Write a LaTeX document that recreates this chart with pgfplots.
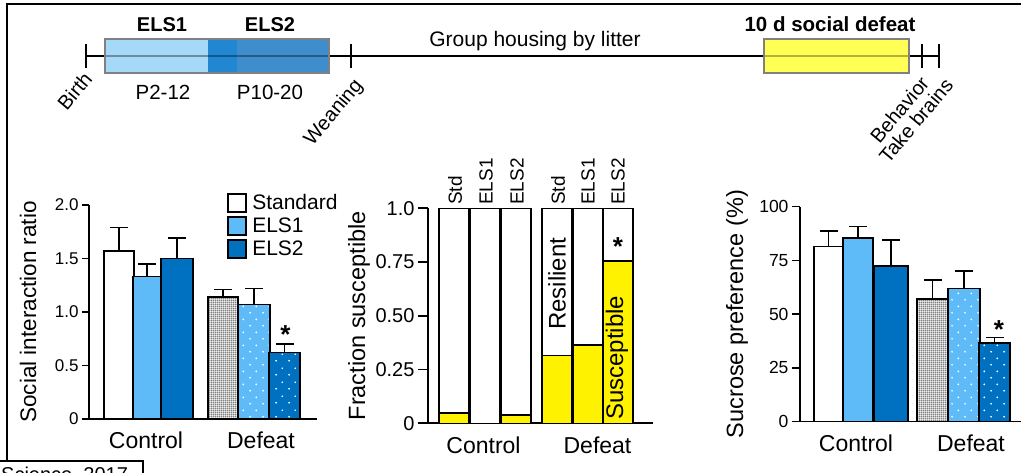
\documentclass[border=0pt]{standalone}
\usepackage{fontspec}
\setmainfont{Liberation Sans}
\usepackage{pgfplots}
\pgfplotsset{compat=1.18}
\usetikzlibrary{patterns}
\newcommand{\fs}[1]{\fontsize{#1}{#1}\selectfont}
\pgfdeclarepatternformonly{whitedots}{\pgfpointorigin}{\pgfqpoint{13pt}{13.4pt}}{\pgfqpoint{13pt}{13.4pt}}{\pgfpathcircle{\pgfqpoint{3.25pt}{3.35pt}}{1pt}\pgfpathcircle{\pgfqpoint{9.75pt}{10.05pt}}{1pt}\pgfusepath{fill}}
\pgfdeclarepatternformonly{finedots}{\pgfpointorigin}{\pgfqpoint{2.3pt}{2.3pt}}{\pgfqpoint{2.3pt}{2.3pt}}{\pgfpathcircle{\pgfqpoint{1.15pt}{1.15pt}}{0.85pt}\pgfusepath{fill}}
\definecolor{elsA}{RGB}{94,187,247}
\definecolor{elsB}{RGB}{0,112,192}
\definecolor{tlA}{RGB}{166,216,248}
\definecolor{tlAB}{RGB}{33,135,210}
\definecolor{tlB}{RGB}{62,142,206}
\definecolor{tlY}{RGB}{255,255,85}
\pgfplotsset{
  panel/.style={scale only axis, axis lines=left, axis line style={line width=1.6pt,-},
    tick align=outside, tick style={line width=1.6pt, black}, xtick=\empty,
    clip=false, no markers, cycle list={{black}}, anchor=south west,
    /pgf/number format/assume math mode=true,
    yticklabel style={font=\fs{17}}},
  mybar/.style={ybar, bar shift=0pt, draw=black, line width=1.6pt,
    error bars/y dir=plus, error bars/y explicit,
    error bars/error bar style={line width=1.6pt, black},
    error bars/error mark options={rotate=90, line width=1.6pt, black, mark size=9pt}},
  legsq/.style={legend image code/.code={\draw[##1, draw=black, line width=1.6pt] (0pt,-9pt) rectangle (18pt,9pt);}},
}
\begin{document}
\begin{tikzpicture}
% panel 1
\begin{axis}[panel, at={(89pt,54pt)}, width=228pt, height=214pt,
  xmin=89, xmax=317, ymin=0, ymax=2, ytick={0,0.5,1,1.5,2}, yticklabels={0,0.5,1.0,1.5,2.0},
  major tick length=7pt, ylabel={Social interaction ratio},
  every axis y label/.style={at={(axis cs:28,1)}, rotate=90, anchor=center, font=\fs{22.5}},
  legend style={at={(axis cs:227,2.113)}, anchor=north west, draw=none, fill=none, inner sep=0pt,
    font=\fs{21}, row sep=3.5pt, nodes={inner sep=1.5pt},
    /tikz/every odd column/.append style={column sep=4pt}}, legend cell align=left]
\addplot[mybar, fill=white, bar width=30, legsq] coordinates {(119,1.57) +- (0,0.22)};
\addlegendentry{Standard}
\addplot[mybar, fill=elsA, bar width=28, legsq] coordinates {(147,1.33) +- (0,0.12)};
\addlegendentry{ELS1}
\addplot[mybar, fill=elsB, bar width=32, legsq] coordinates {(177,1.50) +- (0,0.19)};
\addlegendentry{ELS2}
\addplot[mybar, forget plot, preaction={fill=white}, pattern=finedots, pattern color=black, bar width=30] coordinates {(223,1.14) +- (0,0.07)};
\addplot[mybar, forget plot, preaction={fill=elsA}, pattern=whitedots, pattern color=white, bar width=32] coordinates {(254,1.07) +- (0,0.15)};
\addplot[mybar, forget plot, preaction={fill=elsB}, pattern=whitedots, pattern color=white, bar width=31] coordinates {(284.5,0.62) +- (0,0.08)};
\node[anchor=base, font=\bfseries\fs{26}] at (axis cs:285.5,0.71) {*};
\node[anchor=base, font=\fs{23}] at (axis cs:146,-0.28) {Control};
\node[anchor=base, font=\fs{23}] at (axis cs:261,-0.28) {Defeat};
\end{axis}
% panel 2
\begin{axis}[panel, at={(428pt,49.7pt)}, width=225pt, height=215pt,
  xmin=428, xmax=653, ymin=0, ymax=1, ytick={0,0.25,0.5,0.75,1}, yticklabels={0,0.25,0.50,0.75,1.0},
  major tick length=10pt, yticklabel style={font=\fs{20}}, ylabel={Fraction susceptible},
  every axis y label/.style={at={(axis cs:359,0.5)}, rotate=90, anchor=center, font=\fs{23.5}}]
\addplot[ybar, bar shift=0pt, bar width=30, draw=black, line width=1.5pt, fill=white] coordinates {(454,1) (485,1) (516,1) (557,1) (588,1) (618,1)};
\addplot[ybar, bar shift=0pt, bar width=30, draw=black, line width=1.5pt, fill=yellow] coordinates {(454,0.047) (485,0) (516,0.039) (557,0.316) (588,0.364) (618,0.755)};
\node[rotate=90, anchor=west, font=\fs{19}] at (axis cs:455,1) {Std};
\node[rotate=90, anchor=west, font=\fs{19}] at (axis cs:486,1) {ELS1};
\node[rotate=90, anchor=west, font=\fs{19}] at (axis cs:517,1) {ELS2};
\node[rotate=90, anchor=west, font=\fs{19}] at (axis cs:558,1) {Std};
\node[rotate=90, anchor=west, font=\fs{19}] at (axis cs:588,1) {ELS1};
\node[rotate=90, anchor=west, font=\fs{19}] at (axis cs:618,1) {ELS2};
\node[rotate=90, anchor=center, font=\fs{24}] at (axis cs:557,0.648) {Resilient};
\node[rotate=90, anchor=center, font=\fs{24}] at (axis cs:617,0.304) {Susceptible};
\node[anchor=base, font=\bfseries\fs{26}] at (axis cs:618,0.78) {*};
\node[anchor=base, font=\fs{23}] at (axis cs:483.5,-0.14) {Control};
\node[anchor=base, font=\fs{23}] at (axis cs:597.5,-0.14) {Defeat};
\end{axis}
% panel 3
\begin{axis}[panel, at={(800pt,51.3pt)}, width=221pt, height=215pt,
  xmin=800, xmax=1021, ymin=0, ymax=100, ytick={0,25,50,75,100},
  major tick length=8pt, yticklabel style={font=\fs{17.5}}, ylabel={Sucrose preference (\%)},
  every axis y label/.style={at={(axis cs:737,50)}, rotate=90, anchor=center, font=\fs{23.5}}]
\addplot[mybar, fill=white, bar width=29] coordinates {(828.5,81.4) +- (0,7.3)};
\addplot[mybar, fill=elsA, bar width=30] coordinates {(858,85.4) +- (0,5.3)};
\addplot[mybar, fill=elsB, bar width=34] coordinates {(891,72.4) +- (0,12.1)};
\addplot[mybar, preaction={fill=white}, pattern=finedots, pattern color=black, bar width=31] coordinates {(932.5,57.2) +- (0,8.7)};
\addplot[mybar, preaction={fill=elsA}, pattern=whitedots, pattern color=white, bar width=32] coordinates {(964,62.0) +- (0,8.2)};
\addplot[mybar, preaction={fill=elsB}, pattern=whitedots, pattern color=white, bar width=31] coordinates {(994.5,36.6) +- (0,2.5)};
\node[anchor=base, font=\bfseries\fs{26}] at (axis cs:999,38.5) {*};
\node[anchor=base, font=\fs{23}] at (axis cs:856,-13.95) {Control};
\node[anchor=base, font=\fs{23}] at (axis cs:971,-13.95) {Defeat};
\end{axis}
\begin{scope}[x=1pt,y=1pt]
% frame
\draw[line width=1.3pt] (7,12) -- (7,469) -- (1021,469);
\draw[line width=1.3pt] (0,12) -- (143,12) -- (143,-2);
\node[anchor=base west, inner sep=0pt, font=\fs{20}] at (1,-9) {Science, 2017};
% timeline
\draw[line width=2.6pt] (86,417) -- (939,417);
\foreach \xx in {86,351,922,939} \draw[line width=2.6pt] (\xx,429) -- (\xx,405);
\fill[tlA] (105,400) rectangle (208,434);
\fill[tlAB] (208,400) rectangle (237,434);
\fill[tlB] (237,400) rectangle (329,434);
\draw[black, opacity=0.35, line width=2.6pt] (105,417) -- (329,417);
\draw[gray, line width=1.2pt] (105,400) rectangle (329,434);
\fill[tlY] (764,400) rectangle (909,434);
\draw[black, opacity=0.3, line width=2.6pt] (764,417) -- (909,417);
\draw[gray, line width=1.2pt] (764,400) rectangle (909,434);
\node[anchor=base, font=\bfseries\fs{20}] at (162,441) {ELS1};
\node[anchor=base, font=\bfseries\fs{20}] at (270,441) {ELS2};
\node[anchor=base, font=\fs{20.5}] at (163,373) {P2-12};
\node[anchor=base, font=\fs{20.5}] at (270,373) {P10-20};
\node[anchor=base, font=\fs{21}] at (535,426) {Group housing by litter};
\node[anchor=base, font=\bfseries\fs{20.5}] at (830,441) {10 d social defeat};
\node[rotate=50, anchor=north east, inner sep=1pt, font=\fs{20}] at (82,404) {Birth};
\node[rotate=50, anchor=north east, inner sep=1pt, font=\fs{20}] at (352,398) {Weaning};
\node[rotate=50, anchor=north east, inner sep=1pt, font=\fs{20}] at (919,400) {Behavior};
\node[rotate=50, anchor=north east, inner sep=1pt, font=\fs{20}] at (943,398) {Take brains};
\end{scope}
\pgfresetboundingbox
\path[use as bounding box] (0pt,0pt) rectangle (1021pt,473pt);
\end{tikzpicture}
\end{document}
